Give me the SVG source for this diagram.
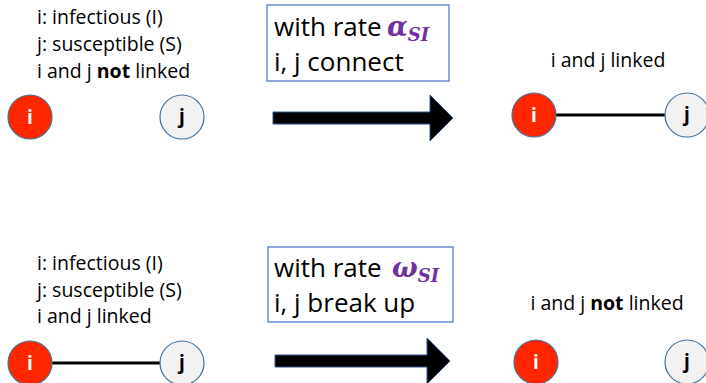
<svg xmlns="http://www.w3.org/2000/svg" width="706" height="383" viewBox="0 0 706 383">
  <style>
    .lbl { font-family: "Open Sans", "Liberation Sans", sans-serif; font-size: 19.5px; fill: #000; }
    .box-txt { font-family: "Open Sans", "Liberation Sans", sans-serif; font-size: 26px; fill: #000; }
    .greek { font-family: "DejaVu Serif", "Liberation Serif", serif; font-weight: bold; font-style: italic; fill: #7030A0; }
    .box { fill: #fff; stroke: #4472C4; stroke-width: 1.2; }
    .inf { fill: #FF2600; stroke: #41719C; stroke-width: 1.2; }
    .sus { fill: #F2F2F2; stroke: #41719C; stroke-width: 1.2; }
    .node-txt { font-family: "Open Sans", "Liberation Sans", sans-serif; font-size: 19px; font-weight: bold; text-anchor: middle; }
    .link { stroke: #000; stroke-width: 3; }
    .big-arrow { fill: #000; stroke: #2F528F; stroke-width: 1; }
  </style>

  <!-- top row: i and j not linked, then they connect -->
  <g id="top-state-text">
    <text class="lbl" x="37" y="24">i: infectious (I)</text>
    <text class="lbl" x="37" y="51">j: susceptible (S)</text>
    <text class="lbl" x="37" y="78">i and j <tspan font-weight="bold">not</tspan> linked</text>
  </g>
  <g id="top-left-i">
    <circle class="inf" cx="30" cy="117" r="22"/>
    <text class="node-txt" x="30" y="124" fill="#fff">i</text>
  </g>
  <g id="top-left-j">
    <circle class="sus" cx="182" cy="117" r="22"/>
    <text class="node-txt" x="182" y="123" fill="#000">j</text>
  </g>

  <g id="top-rate-box">
    <rect class="box" x="267" y="5" width="182" height="76"/>
    <text class="box-txt" x="274" y="36">with rate <tspan class="greek" x="387" font-size="27">α</tspan><tspan class="greek" font-size="18" dy="5">SI</tspan></text>
    <text class="box-txt" x="274" y="71">i, j connect</text>
  </g>

  <g id="top-right-text">
    <text class="lbl" x="608" y="67" text-anchor="middle">i and j linked</text>
  </g>

  <!-- bottom row: i and j linked, then they break up -->
  <g id="bottom-state-text">
    <text class="lbl" x="37" y="270">i: infectious (I)</text>
    <text class="lbl" x="37" y="297">j: susceptible (S)</text>
    <text class="lbl" x="37" y="323">i and j linked</text>
  </g>

  <g id="bottom-rate-box">
    <rect class="box" x="268" y="247" width="185" height="75"/>
    <text class="box-txt" x="274" y="277">with rate <tspan class="greek" x="392" font-size="27">ω</tspan><tspan class="greek" font-size="18" dy="5">SI</tspan></text>
    <text class="box-txt" x="274" y="312">i, j break up</text>
  </g>

  <g id="bottom-right-text">
    <text class="lbl" x="607" y="310" text-anchor="middle">i and j <tspan font-weight="bold">not</tspan> linked</text>
  </g>

  <g id="connectors">
    <line class="link" x1="552" y1="115" x2="665" y2="115"/>
    <line class="link" x1="52" y1="363" x2="160" y2="363"/>
    <path class="big-arrow" d="M273,112 H430 V95 L453,118 L430,141 V124 H273 Z"/>
    <path class="big-arrow" d="M275,355 H427 V338 L450,361 L427,384 V367 H275 Z"/>
  </g>

  <g id="top-right-i">
    <circle class="inf" cx="534" cy="115" r="22"/>
    <text class="node-txt" x="534" y="122" fill="#fff">i</text>
  </g>
  <g id="top-right-j">
    <circle class="sus" cx="687" cy="115" r="22"/>
    <text class="node-txt" x="687" y="121" fill="#000">j</text>
  </g>

  <g id="bottom-left-i">
    <circle class="inf" cx="30" cy="363" r="22"/>
    <text class="node-txt" x="30" y="370" fill="#fff">i</text>
  </g>
  <g id="bottom-left-j">
    <circle class="sus" cx="182" cy="363" r="22"/>
    <text class="node-txt" x="182" y="369" fill="#000">j</text>
  </g>

  <g id="bottom-right-i">
    <circle class="inf" cx="536" cy="362" r="22"/>
    <text class="node-txt" x="536" y="369" fill="#fff">i</text>
  </g>
  <g id="bottom-right-j">
    <circle class="sus" cx="687" cy="362" r="22"/>
    <text class="node-txt" x="687" y="368" fill="#000">j</text>
  </g>
</svg>
